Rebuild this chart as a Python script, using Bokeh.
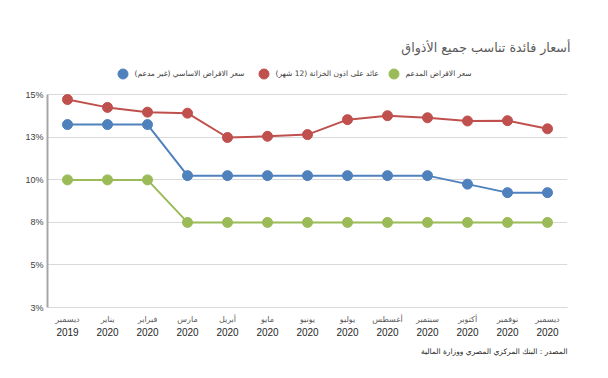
from bokeh.plotting import figure
from bokeh.models import (LinearAxis, FixedTicker, Grid, Range1d, Legend, LegendItem, Title)
from bokeh.embed import file_html
from bokeh.resources import INLINE

# ---- data ----
months = ["ديسمبر", "يناير", "فبراير", "مارس", "أبريل", "مايو", "يونيو",
          "يوليو", "أغسطس", "سبتمبر", "أكتوبر", "نوفمبر", "ديسمبر"]
years = ["2019"] + ["2020"] * 12
treasury = [14.72, 14.26, 13.98, 13.92, 12.49, 12.56, 12.66, 13.54, 13.77, 13.65, 13.46, 13.48, 13.0]
basic = [13.25, 13.25, 13.25, 10.25, 10.25, 10.25, 10.25, 10.25, 10.25, 10.25, 9.75, 9.25, 9.25]
subsidized = [10.0, 10.0, 10.0, 7.5, 7.5, 7.5, 7.5, 7.5, 7.5, 7.5, 7.5, 7.5, 7.5]
y_ticks = [2.5, 5.0, 7.5, 10.0, 12.5, 15.0]
y_tick_labels = ["3%", "5%", "8%", "10%", "13%", "15%"]
series_names = ["سعر الاقراض الاساسي (غير مدعم)", "عائد على اذون الخزانة (12 شهر)", "سعر الاقراض المدعم"]
title_text = "أسعار فائدة تناسب جميع الأذواق"
source_text = "المصدر : البنك المركزي المصري ووزارة المالية"

xs = list(range(len(months)))
AR_FONT = "DejaVu Sans"

W, H = 592, 362
FL, FR, FT, FB = 47, 567, 58, 307          # frame edges (px); top extended to hold the legend
PLOT_TOP = 94.3                             # px where the top tick sits
y_top = y_ticks[-1] + (PLOT_TOP - FT) * (y_ticks[-1] - y_ticks[0]) / (FB - PLOT_TOP)

p = figure(width=W, height=H, output_backend="svg", toolbar_location=None,
           x_range=Range1d(-0.5, len(months) - 0.5), y_range=Range1d(y_ticks[0], y_top),
           x_axis_type=None, y_axis_type=None,
           min_border_left=FL, min_border_right=W - FR, min_border_top=FT, min_border_bottom=H - FB)
p.outline_line_color = None

# y axis
yax = LinearAxis(ticker=FixedTicker(ticks=y_ticks), bounds=(y_ticks[0], y_ticks[-1]),
                 major_label_overrides={float(t): l for t, l in zip(y_ticks, y_tick_labels)},
                 axis_line_color="#a6a6a6", axis_line_width=2,
                 major_tick_line_color=None, minor_tick_line_color=None,
                 major_tick_out=0, major_tick_in=0, minor_tick_out=0, minor_tick_in=0,
                 major_label_standoff=4, major_label_text_font="Liberation Sans",
                 major_label_text_font_size="9px", major_label_text_color="#404040")
p.add_layout(yax, "left")
p.add_layout(Grid(dimension=1, ticker=yax.ticker, grid_line_color="#d9d9d9", grid_line_width=1))

# x axes (month line + year line)
ax_m = LinearAxis(ticker=FixedTicker(ticks=xs),
                  major_label_overrides={i: m for i, m in zip(xs, months)},
                  axis_line_color="#d9d9d9", axis_line_width=1,
                  major_tick_line_color=None, minor_tick_line_color=None,
                  major_tick_out=0, major_tick_in=0, minor_tick_out=0, minor_tick_in=0,
                  major_label_standoff=7, major_label_text_font=AR_FONT,
                  major_label_text_font_size="8px", major_label_text_color="#595959")
p.add_layout(ax_m, "below")
ax_y = LinearAxis(ticker=FixedTicker(ticks=xs),
                  major_label_overrides={i: y for i, y in zip(xs, years)},
                  axis_line_color=None,
                  major_tick_line_color=None, minor_tick_line_color=None,
                  major_tick_out=0, major_tick_in=0, minor_tick_out=0, minor_tick_in=0,
                  major_label_standoff=1, major_label_text_font="Liberation Sans",
                  major_label_text_font_size="10px", major_label_text_color="#262626")
p.add_layout(ax_y, "below")

colors = ["#4f81bd", "#c0504d", "#9bbb59"]
series = [basic, treasury, subsidized]
renderers = []
for vals, c in zip(series, colors):
    p.line(xs, vals, line_color=c, line_width=2)
    r = p.scatter(xs, vals, size=10, fill_color=c, line_color=c)
    renderers.append(r)

# one legend per series, placed inside the (extended) frame
leg_dot_x = [122, 263, 393]   # px, legend dot centres
for n, r, dx in zip(series_names, renderers, leg_dot_x):
    leg = Legend(items=[LegendItem(label=n, renderers=[r])],
                 location=(dx - 12.5 - FL, FB - 85.5), orientation="horizontal",
                 glyph_width=25, glyph_height=25,
                 label_standoff=0, padding=0, margin=0, border_line_color=None,
                 background_fill_alpha=0, label_text_font=AR_FONT,
                 label_text_font_size="7.5px", label_text_color="#404040")
    p.add_layout(leg)

p.add_layout(Title(text=title_text, align="right", offset=-3, standoff=8,
                   text_font=AR_FONT, text_font_size="12.7px", text_font_style="normal",
                   text_color="#595959"), "above")
p.add_layout(Title(text=source_text, align="right", standoff=13,
                   text_font=AR_FONT, text_font_size="7.5px", text_font_style="normal",
                   text_color="#262626"), "below")

open("out.html", "w").write(file_html(p, INLINE))
